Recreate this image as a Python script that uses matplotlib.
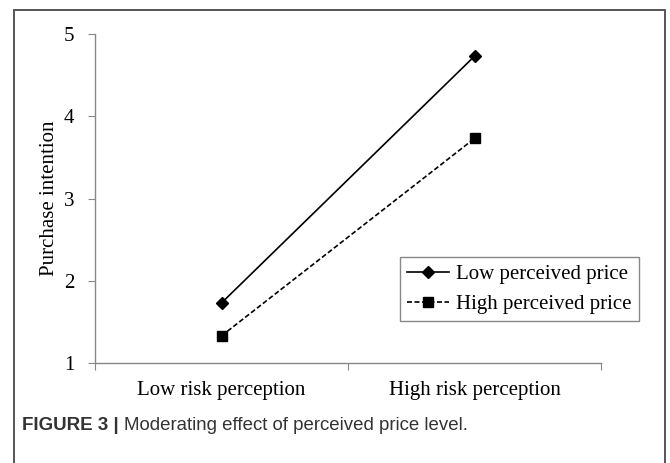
import matplotlib
matplotlib.use("Agg")
import matplotlib.pyplot as plt
from matplotlib.patches import Rectangle

categories = ["Low risk perception", "High risk perception"]
low_price = [1.73, 4.73]
high_price = [1.33, 3.73]
series_names = ["Low perceived price", "High perceived price"]
y_ticks = [1, 2, 3, 4, 5]

W, H = 670, 463
fig = plt.figure(figsize=(W / 100, H / 100), dpi=100)
serif = ["Liberation Serif", "DejaVu Serif"]

# outer frame of the figure panel
fig.patches.append(Rectangle((14 / W, -0.05), (665 - 14) / W, 1.05 - 10 / H,
                             transform=fig.transFigure, fill=False,
                             edgecolor="#555555", lw=1.4))

ax = fig.add_axes([95 / W, 1 - 363 / H, (601 - 95) / W, (363 - 34) / H])
x = [1, 2]
ax.plot(x, low_price, color="black", lw=1.2, marker="D", markersize=6,
        label=series_names[0])
ax.plot(x, high_price, color="black", lw=1.2, ls=(0, (3, 1.5)), marker="s",
        markersize=7, label=series_names[1])

ax.set_xlim(0.5, 2.5)
ax.set_ylim(1, 5)
ax.set_yticks(y_ticks)
ax.set_yticklabels([str(v) for v in y_ticks], fontfamily=serif, fontsize=15)
ax.set_xticks([0.5, 1.5, 2.5])
ax.set_xticklabels([])
ax.set_xticks(x, minor=True)
ax.set_xticklabels(categories, minor=True, fontfamily=serif, fontsize=15)
ax.tick_params(axis="x", which="minor", length=0, pad=13)
ax.tick_params(axis="x", which="major", length=5, color="#888888")
ax.tick_params(axis="y", length=5, color="#888888", pad=10)
for s in ["top", "right"]:
    ax.spines[s].set_visible(False)
for s in ["left", "bottom"]:
    ax.spines[s].set_color("#888888")
    ax.spines[s].set_linewidth(1.0)

ax.set_ylabel("Purchase intention", fontfamily=serif, fontsize=15, labelpad=3)

leg = fig.legend(loc="upper left", bbox_to_anchor=(400 / W, 1 - 257 / H),
                 bbox_transform=fig.transFigure, borderaxespad=0,
                 prop={"family": serif, "size": 15}, fancybox=False,
                 edgecolor="#888888", framealpha=1, handlelength=2.0,
                 handletextpad=0.35, borderpad=0.35, labelspacing=0.5)
leg.get_frame().set_linewidth(1.0)

t1 = fig.text(22 / W, 1 - 430 / H, "FIGURE 3 |", fontfamily="Liberation Sans",
              fontweight="bold", fontsize=13.5, color="#333333")
fig.canvas.draw()
bb = t1.get_window_extent()
fig.text((bb.x1 + 5) / W, 1 - 430 / H, "Moderating effect of perceived price level.",
         fontfamily="Liberation Sans", fontsize=13.4, color="#333333")

fig.savefig("out.png", dpi=100)
